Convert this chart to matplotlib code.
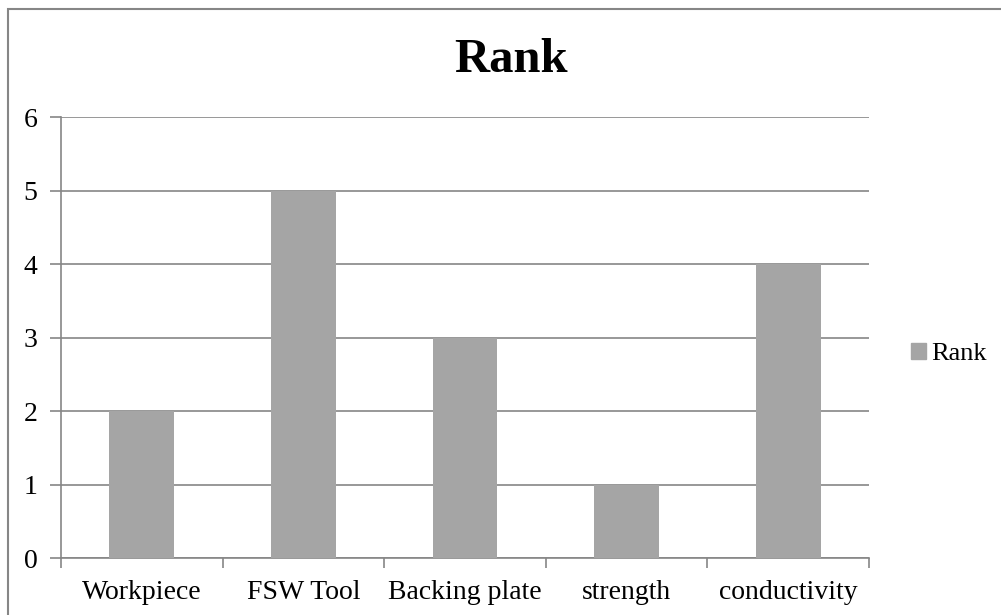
import matplotlib.pyplot as plt
from matplotlib.patches import Rectangle, Patch

categories = ['Workpiece', 'FSW Tool', 'Backing plate', 'strength', 'conductivity']
rank = [2, 5, 3, 1, 4]

bar_color = '#a5a5a5'
line_color = '#868686'

plt.rcParams['font.family'] = ['Liberation Serif', 'DejaVu Serif']

fig = plt.figure(figsize=(10.01, 6.15), dpi=100)
ax = fig.add_axes([61 / 1001, 1 - 558 / 615, (869 - 61) / 1001, (558 - 117) / 615])

x = list(range(len(categories)))
ax.bar(x, rank, width=0.4, color=bar_color, zorder=3, label='Rank')

ax.set_xlim(-0.5, len(categories) - 0.5)
ax.set_ylim(0, 6)
ax.set_yticks(range(7))
ax.yaxis.grid(True, color=line_color, linewidth=1.2, zorder=0)

# category labels centred, tick marks on the boundaries
ax.set_xticks(x)
ax.set_xticklabels(categories, fontsize=20)
ax.tick_params(axis='x', length=0, pad=16)
ax.set_xticks([i - 0.5 for i in range(len(categories) + 1)], minor=True)
ax.tick_params(axis='x', which='minor', length=7, width=1.2, color=line_color)
ax.tick_params(axis='y', labelsize=20, length=8, width=1.2, color=line_color, pad=9)

for side in ['top', 'right']:
    ax.spines[side].set_visible(False)
for side in ['left', 'bottom']:
    ax.spines[side].set_color(line_color)
    ax.spines[side].set_linewidth(1.2)

fig.text(511 / 1001, 1 - 60 / 615, 'Rank', fontsize=35, fontweight='bold',
         ha='center', va='center')

fig.legend(handles=[Patch(color=bar_color, label='Rank')],
           loc='center left', bbox_to_anchor=(911 / 1001, 1 - 354 / 615),
           frameon=False, fontsize=19, handlelength=0.55, handleheight=0.55,
           handletextpad=0.2, borderpad=0, borderaxespad=0)

# chart area outline
fig.patches.append(Rectangle((7.5 / 1001, -0.1), 1.2, 1 - 8.5 / 615 + 0.1,
                             transform=fig.transFigure, fill=False,
                             edgecolor=line_color, linewidth=1.5))

fig.savefig('out.png', dpi=100)
